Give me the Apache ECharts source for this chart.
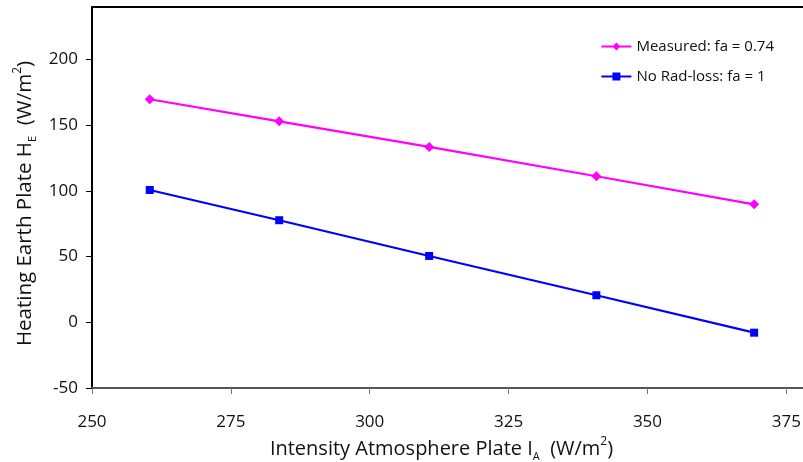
<!DOCTYPE html>
<html><head><meta charset="utf-8">
<script src="https://cdn.jsdelivr.net/npm/echarts@6/dist/echarts.min.js"></script>
<style>html,body{margin:0;padding:0;background:#fff}#c{width:803px;height:462px}</style>
</head><body><div id="c"></div>
<script>
const xValues = [260.4, 283.7, 310.7, 340.8, 369.2];
const measured = [169.8, 153.0, 133.5, 111.2, 89.8];
const noRadLoss = [100.7, 77.7, 50.5, 20.6, -7.9];
const seriesNames = ['Measured: fa = 0.74', 'No Rad-loss: fa = 1'];
const xTicks = [250, 275, 300, 325, 350, 375];
const yTicks = [-50, 0, 50, 100, 150, 200];

const FONT = '"Open Sans", "Liberation Sans", sans-serif';
const chart = echarts.init(document.getElementById('c'), null, {renderer: 'canvas'});
const pair = (xs, ys) => xs.map((x, i) => [x, ys[i]]);
const richName = (size) => ({
  a: {fontSize: size, color: '#111', fontFamily: FONT, lineHeight: 26},
  s: {fontSize: 11, color: '#111', fontFamily: FONT, lineHeight: 26, verticalAlign: 'bottom', padding: [12, 0, 0, 0]},
  p: {fontSize: 12, color: '#111', fontFamily: FONT, lineHeight: 26, verticalAlign: 'top', padding: [0, 0, 11, 0]}
});
chart.setOption({
  animation: false,
  backgroundColor: '#fff',
  textStyle: {fontFamily: FONT},
  grid: {left: 92, top: 7, bottom: 74, right: 0, outerBoundsMode: 'none', containLabel: false},
  legend: {
    orient: 'vertical', right: 24, top: 34, itemGap: 15,
    itemWidth: 30, itemHeight: 10,
    textStyle: {fontFamily: FONT, fontSize: 15, color: '#111'},
    data: seriesNames
  },
  xAxis: [{
    type: 'value', min: 250, max: 378, interval: 25,
    axisLine: {show: true, onZero: false, lineStyle: {color: '#555', width: 2}},
    axisTick: {show: true, length: 6, customValues: xTicks, lineStyle: {color: '#777', width: 1}},
    axisLabel: {fontSize: 17, color: '#111', margin: 26, fontFamily: FONT, customValues: xTicks},
    splitLine: {show: false},
    name: '{a|Intensity Atmosphere Plate I}{s|A}{a|  (W/m}{p|2}{a|)}',
    nameLocation: 'middle', nameGap: 46,
    nameTextStyle: {padding: [0, 12, 0, 0], rich: richName(20)}
  }, {
    type: 'value', position: 'top', min: 250, max: 378,
    axisLine: {show: true, onZero: false, lineStyle: {color: '#000', width: 2}},
    axisTick: {show: false}, axisLabel: {show: false}, splitLine: {show: false}
  }],
  yAxis: {
    type: 'value', min: -50, max: 240, interval: 50,
    axisLine: {show: true, onZero: false, lineStyle: {color: '#000', width: 2}},
    axisTick: {show: true, length: 6, customValues: yTicks, lineStyle: {color: '#000', width: 1}},
    axisLabel: {fontSize: 17, color: '#111', margin: 14, fontFamily: FONT, customValues: yTicks},
    splitLine: {show: false},
    name: '{a|Heating Earth Plate H}{s|E}{a|  (W/m}{p|2}{a|)}',
    nameLocation: 'middle', nameGap: 53,
    nameTextStyle: {padding: [0, 12, 0, 0], rich: richName(20.5)}
  },
  series: [
    {name: seriesNames[0], type: 'line', data: pair(xValues, measured),
     symbol: 'diamond', symbolSize: 10, color: '#ff00ff',
     lineStyle: {width: 2.2, color: '#ff00ff'}, itemStyle: {color: '#ff00ff'}},
    {name: seriesNames[1], type: 'line', data: pair(xValues, noRadLoss),
     symbol: 'rect', symbolSize: 8, color: '#0000ff',
     lineStyle: {width: 2.2, color: '#0000ff'}, itemStyle: {color: '#0000ff'}}
  ]
});
</script></body></html>
